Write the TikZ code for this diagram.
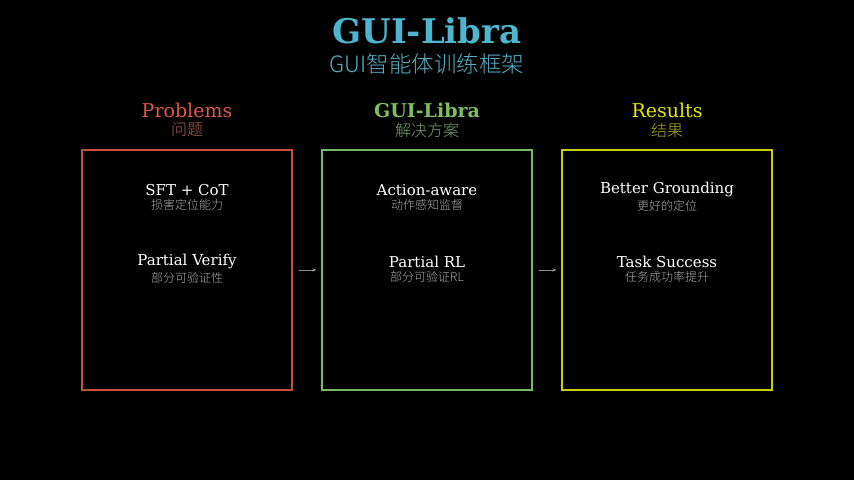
\documentclass[tikz,border=0pt]{standalone}
\usepackage{fontspec}
\setmainfont{DejaVu Serif}
\newfontfamily\cjk{Noto Sans CJK SC Light}
\usetikzlibrary{arrows.meta}
\definecolor{ttl}{HTML}{4DB6CF}
\definecolor{cred}{HTML}{E0574A}
\definecolor{cgrn}{HTML}{7CC063}
\definecolor{cyel}{HTML}{E6E600}
\definecolor{bred}{HTML}{C0503F}
\definecolor{bgrn}{HTML}{78B866}
\definecolor{byel}{HTML}{CCCC00}
\tikzset{
 box/.style={draw=#1, line width=1.2pt, minimum width=210pt, minimum height=240pt, inner sep=0pt},
 head/.style={font=\fontsize{19}{19}\selectfont, text=#1},
 sub/.style={font=\cjk\fontsize{16}{17}\selectfont, text=#1},
 item/.style={font=\fontsize{15}{15}\selectfont, text=white},
 isub/.style={font=\cjk\fontsize{12}{13}\selectfont, text=gray!65},
 arr/.style={-{Stealth[length=4pt,width=3.5pt]}, draw=gray!85, line width=0.8pt}
}
\begin{document}
\begin{tikzpicture}[x=1pt,y=-1pt]
\fill[black] (0,0) rectangle (854,480);
\useasboundingbox (0,0) rectangle (854,480);
\node[font=\bfseries\fontsize{34}{34}\selectfont, text=ttl] (t) at (427,31) {GUI-Libra};
\node[font=\cjk\fontsize{22.5}{23}\selectfont, text=ttl!85!gray] (ts) at (427,64) {GUI智能体训练框架};

\node[head=cred] (h1) at (187,110) {Problems};
\node[sub=bred!70!gray] (s1) at (187,130) {问题};
\node[head=cgrn, font=\bfseries\fontsize{19}{19}\selectfont] (h2) at (427,110) {GUI-Libra};
\node[sub=bgrn!60!gray] (s2) at (427,130) {解决方案};
\node[head=cyel] (h3) at (667,110) {Results};
\node[sub=byel!60!gray] (s3) at (667,130) {结果};

\node[box=bred] (b1) at (187,270) {};
\node[box=bgrn] (b2) at (427,270) {};
\node[box=byel] (b3) at (667,270) {};

\node[item] (i11) at (187,190) {SFT + CoT};
\node[isub] (j11) at (187,205) {损害定位能力};
\node[item] (i12) at (187,261) {Partial Verify};
\node[isub] (j12) at (187,278) {部分可验证性};
\node[item] (i21) at (427,190) {Action-aware};
\node[isub] (j21) at (427,205) {动作感知监督};
\node[item] (i22) at (427,262) {Partial RL};
\node[isub] (j22) at (427,277) {部分可验证RL};
\node[item] (i31) at (667,189) {Better Grounding};
\node[isub] (j31) at (667,206) {更好的定位};
\node[item] (i32) at (667,262) {Task Success};
\node[isub] (j32) at (667,277) {任务成功率提升};

\draw[arr] ([xshift=6pt]b1.east) -- ([xshift=-5pt]b2.west);
\draw[arr] ([xshift=6pt]b2.east) -- ([xshift=-5pt]b3.west);
\end{tikzpicture}
\end{document}
